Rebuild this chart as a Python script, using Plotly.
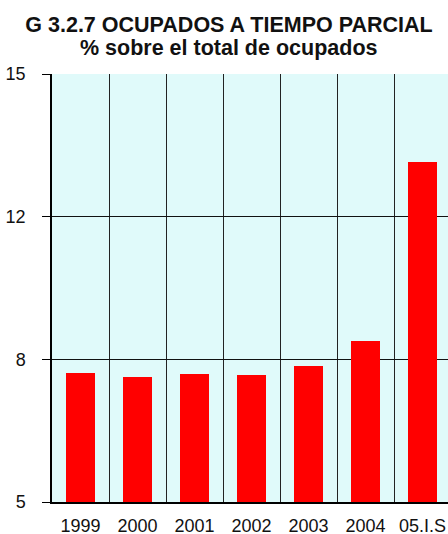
import plotly.graph_objects as go

categories = ["1999", "2000", "2001", "2002", "2003", "2004", "05.I.S"]
values = [7.66, 7.57, 7.63, 7.62, 7.84, 8.44, 12.85]
y_tickvals = [4.5, 8, 11.5, 15]
y_ticktext = ["5", "8", "12", "15"]
title_line1 = "G 3.2.7 OCUPADOS A TIEMPO PARCIAL"
title_line2 = "% sobre el total de ocupados"

x_pos = list(range(len(categories)))

fig = go.Figure()
fig.add_trace(go.Bar(
    x=x_pos, y=values, width=0.52,
    marker=dict(color="#FF0000", line=dict(width=0)),
    hoverinfo="skip",
))

font_family = "Liberation Sans, Arial, sans-serif"
W, H = 448, 534
L, T, B = 52, 74, 32

fig.update_layout(
    width=W, height=H,
    margin=dict(l=L, r=0, t=T, b=B, pad=0, autoexpand=False),
    paper_bgcolor="white",
    plot_bgcolor="#E0FAFA",
    showlegend=False,
    title=dict(
        text="<b>" + title_line1 + "</b>",
        x=229 / W, xanchor="center", xref="container",
        y=1 - 24.5 / H, yanchor="middle", yref="container",
        font=dict(family=font_family, size=21.5, color="#111111"),
    ),
    bargap=0,
)
fig.add_annotation(
    text="<b>" + title_line2 + "</b>",
    xref="paper", yref="paper",
    x=(229 - L) / (W - L), y=(H - B - 48.5) / (H - B - T),
    xanchor="center", yanchor="middle", showarrow=False,
    font=dict(family=font_family, size=21.5, color="#111111"),
)

fig.update_xaxes(
    range=[-0.5, 6.447],
    tickvals=x_pos, ticktext=categories,
    showgrid=False, zeroline=False,
    ticks="", ticklabelstandoff=7,
    automargin=False,
    showline=True, linecolor="black", linewidth=1.5,
    tickfont=dict(family=font_family, size=18, color="#111111"),
    minor=dict(tick0=0.5, dtick=1, showgrid=True, gridcolor="#222222", gridwidth=1, ticks=""),
    fixedrange=True,
)

fig.update_yaxes(
    range=[4.5, 15],
    tickvals=y_tickvals, ticktext=y_ticktext,
    showgrid=True, gridcolor="#111111", gridwidth=1,
    zeroline=False,
    automargin=False,
    ticks="outside", ticklen=8, tickcolor="black", tickwidth=1,
    ticklabelstandoff=13,
    showline=True, linecolor="black", linewidth=1.5,
    tickfont=dict(family=font_family, size=18, color="#111111"),
    fixedrange=True,
)

fig.write_html(
    "out.html",
    config={"displayModeBar": False},
    post_script="document.body.style.margin='0';document.body.style.overflow='hidden';",
)
